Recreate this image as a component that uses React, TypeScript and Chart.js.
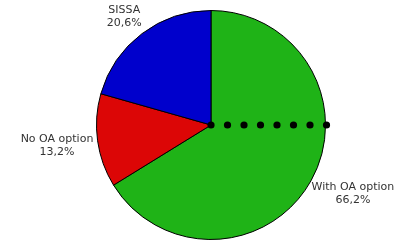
import React, { useEffect, useRef } from "react";
import { Chart, registerables } from "chart.js";

Chart.register(...registerables);

const categories = ["With OA option", "No OA option", "SISSA"];
const values = [66.2, 13.2, 20.6];
const valueLabels = ["66,2%", "13,2%", "20,6%"];
const colors = ["#1fb317", "#dc0606", "#0000cc"];
const dotCount = 8;

const overlayPlugin = {
  id: "overlay",
  afterDraw(chart: any) {
    const ctx = chart.ctx;
    const meta = chart.getDatasetMeta(0);
    const arcs = meta.data as any[];
    if (!arcs.length) return;
    const cx = arcs[0].x;
    const cy = arcs[0].y;
    const r = arcs[0].outerRadius;
    ctx.save();
    ctx.fillStyle = "#000";
    for (let i = 0; i < dotCount; i++) {
      const x = cx + (i * (r + 1)) / (dotCount - 1);
      ctx.beginPath();
      ctx.arc(x, cy, 3.6, 0, Math.PI * 2);
      ctx.fill();
    }
    ctx.font = "11px 'DejaVu Sans'";
    ctx.fillStyle = "#333";
    ctx.textAlign = "center";
    ctx.textBaseline = "middle";
    const lh = 13;
    arcs.forEach((arc: any, i: number) => {
      const mid = (arc.startAngle + arc.endAngle) / 2;
      const dx = Math.cos(mid);
      const dy = Math.sin(mid);
      const lines = [categories[i], valueLabels[i]];
      const w = Math.max(...lines.map((l) => ctx.measureText(l).width));
      const d = r + 23;
      const x = cx + dx * d + dx * (w / 2) * 0.55 + 2;
      const y = cy + dy * d + 1.5;
      ctx.fillText(lines[0], x, y - lh / 2);
      ctx.fillText(lines[1], x, y + lh / 2);
    });
    ctx.restore();
  },
};

export default function App() {
  const ref = useRef<HTMLCanvasElement>(null);
  useEffect(() => {
    document.body.style.margin = "0";
    const chart = new Chart(ref.current!, {
      type: "pie",
      data: {
        labels: categories,
        datasets: [
          {
            data: values,
            backgroundColor: colors,
            borderColor: "#000",
            borderWidth: 1,
          },
        ],
      },
      options: {
        responsive: false,
        animation: false,
        layout: { padding: { top: 10, bottom: 4, left: 96, right: 81 } },
        plugins: {
          legend: { display: false },
          tooltip: { enabled: false },
        },
      },
      plugins: [overlayPlugin],
    });
    return () => chart.destroy();
  }, []);
  return <canvas ref={ref} width={407} height={244} style={{ display: "block" }} />;
}
